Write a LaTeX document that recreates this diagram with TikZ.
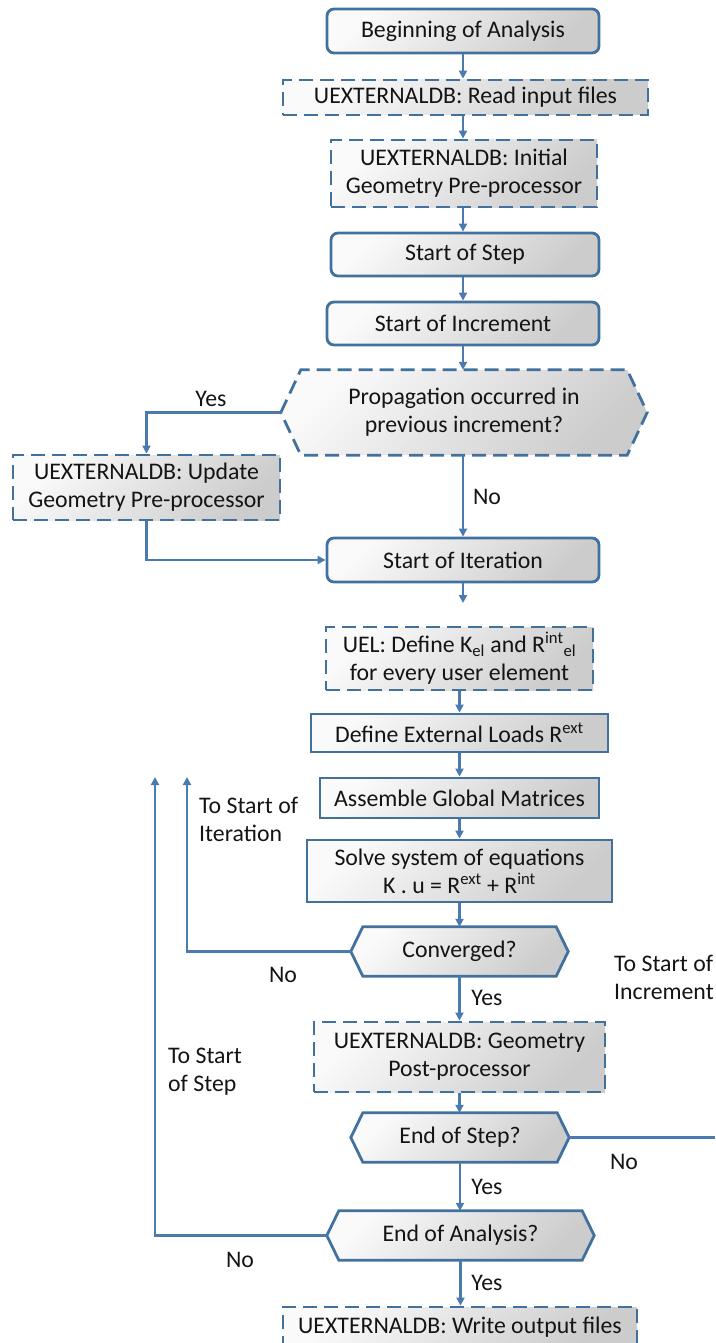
\documentclass[tikz,border=0pt]{standalone}
\usepackage{fontspec}
\setmainfont{Carlito}
\usetikzlibrary{arrows.meta,backgrounds,calc}
\definecolor{bc}{RGB}{65,113,156}
\definecolor{ac}{RGB}{74,122,176}
\definecolor{tc}{RGB}{20,20,20}
\tikzset{
 txt/.style={text=tc, font=\fontsize{23.8}{28}\selectfont},
 box/.style={txt, draw=bc, line width=2.8pt, shading=axis, top color=black!2, bottom color=black!20, shading angle=45, align=center, inner sep=0pt},
 rbox/.style={box, rounded corners=7pt},
 dbox/.style={box, dash pattern=on 14pt off 7pt},
 hexn/.style={txt, inner sep=0pt, align=center},
 hexd/.style={draw=bc, line width=2.8pt, shading=axis, top color=black!2, bottom color=black!20, shading angle=45},
 arr/.style={draw=ac, line width=2.2pt, -{Triangle[length=8pt,width=8pt]}},
 ln/.style={draw=ac, line width=2.2pt},
 lbl/.style={txt, inner sep=0pt, align=left}
}
\begin{document}
\begin{tikzpicture}[x=1pt,y=-1pt]
\useasboundingbox (0,0) rectangle (715,1343);
\clip (0,0) rectangle (715,1343);
% nodes
\node[rbox, minimum width=272pt, minimum height=44pt] (begin) at (463,31) {Beginning of Analysis};
\node[dbox, minimum width=365pt, minimum height=35pt] (read) at (465.5,97.5) {UEXTERNALDB: Read input files};
\node[dbox, minimum width=266pt, minimum height=67pt] (init) at (464,173.5) {UEXTERNALDB: Initial\\Geometry Pre-processor};
\node[rbox, minimum width=268pt, minimum height=43pt] (step) at (465,254.5) {Start of Step};
\node[rbox, minimum width=272pt, minimum height=43pt] (incr) at (463,323.5) {Start of Increment};
\node[hexn, minimum width=366pt, minimum height=85pt] (prop) at (464,412.5) {Propagation occurred in\\previous increment?};
\node[dbox, minimum width=267pt, minimum height=65pt] (upd) at (146.5,487.5) {UEXTERNALDB: Update\\Geometry Pre-processor};
\node[rbox, minimum width=272pt, minimum height=44pt] (iter) at (463,560) {Start of Iteration};
\node[dbox, minimum width=267pt, minimum height=63pt] (uel) at (459.5,658.5) {UEL: Define K\textsubscript{el} and R\textsuperscript{int}\textsubscript{el}\\for every user element};
\node[box, minimum width=297pt, minimum height=38pt] (ext) at (459.5,733) {Define External Loads R\textsuperscript{ext}};
\node[box, minimum width=279pt, minimum height=40pt] (asm) at (459.5,798) {Assemble Global Matrices};
\node[box, minimum width=305pt, minimum height=62pt] (solve) at (459.5,871) {Solve system of equations\\K . u = R\textsuperscript{ext} + R\textsuperscript{int}};
\node[hexn, minimum width=217pt, minimum height=49pt] (conv) at (459.5,951.5) {Converged?};
\node[dbox, minimum width=291pt, minimum height=70pt] (post) at (459.5,1057) {UEXTERNALDB: Geometry\\Post-processor};
\node[hexn, minimum width=218pt, minimum height=49pt] (eos) at (460,1137.5) {End of Step?};
\node[hexn, minimum width=267pt, minimum height=49pt] (eoa) at (460.5,1235.5) {End of Analysis?};
\node[dbox, minimum width=354pt, minimum height=40pt] (write) at (460,1327) {UEXTERNALDB: Write output files};
% hexagon outlines
\begin{scope}[on background layer]
\draw[hexd, dash pattern=on 14pt off 7pt] (prop.west) -- ([xshift=20pt]prop.north west) -- ([xshift=-20pt]prop.north east) -- (prop.east) -- ([xshift=-20pt]prop.south east) -- ([xshift=20pt]prop.south west) -- cycle;
\foreach \h in {conv,eos,eoa}{
\draw[hexd] (\h.west) -- ([xshift=12pt]\h.north west) -- ([xshift=-12pt]\h.north east) -- (\h.east) -- ([xshift=-12pt]\h.south east) -- ([xshift=12pt]\h.south west) -- cycle;
}
\end{scope}
% free-end coordinates
\coordinate (iterend) at (463,603);
\coordinate (itback) at (187,777);
\coordinate (stback) at (155,777);
\coordinate (incrout) at (715,1137.5);
% connectors
\draw[arr] (begin.south) -- (begin.south |- read.north);
\draw[arr] (begin.south |- read.south) -- (begin.south |- init.north);
\draw[arr] (begin.south |- init.south) -- (begin.south |- step.north);
\draw[arr] (begin.south |- step.south) -- (begin.south |- incr.north);
\draw[arr] (incr.south) -- (incr.south |- prop.north);
\draw[arr] (prop.west) -| (upd.north);
\draw[arr] (incr.south |- prop.south) -- (iter.north);
\draw[arr] (upd.south) |- (iter.west);
\draw[arr] (iter.south) -- (iterend);
\draw[arr] (uel.south) -- (uel.south |- ext.north);
\draw[arr] (ext.south) -- (ext.south |- asm.north);
\draw[arr] (asm.south) -- (asm.south |- solve.north);
\draw[arr] (solve.south) -- (solve.south |- conv.north);
\draw[arr] (conv.west) -| (itback);
\draw[arr] (conv.south) -- (conv.south |- post.north);
\draw[arr] (post.south) -- (post.south |- eos.north);
\draw[ln] (eos.east) -- (incrout);
\draw[arr] (eos.south) -- (eos.south |- eoa.north);
\draw[arr] (eoa.west) -| (stback);
\draw[arr] (eoa.south) -- (eoa.south |- write.north);
% labels
\node[lbl] (l1) at (211,399) {Yes};
\node[lbl] (l2) at (487,497) {No};
\node[lbl, anchor=west] (l3) at (199,819) {To Start of\\Iteration};
\node[lbl] (l4) at (283,975) {No};
\node[lbl, anchor=west] (l5) at (614,977.5) {To Start of\\Increment};
\node[lbl] (l6) at (487,998) {Yes};
\node[lbl, anchor=west] (l7) at (168,1072) {To Start\\of Step};
\node[lbl] (l8) at (624,1162) {No};
\node[lbl] (l9) at (487,1187) {Yes};
\node[lbl] (l10) at (240,1260) {No};
\node[lbl] (l11) at (487,1283) {Yes};
\end{tikzpicture}
\end{document}
